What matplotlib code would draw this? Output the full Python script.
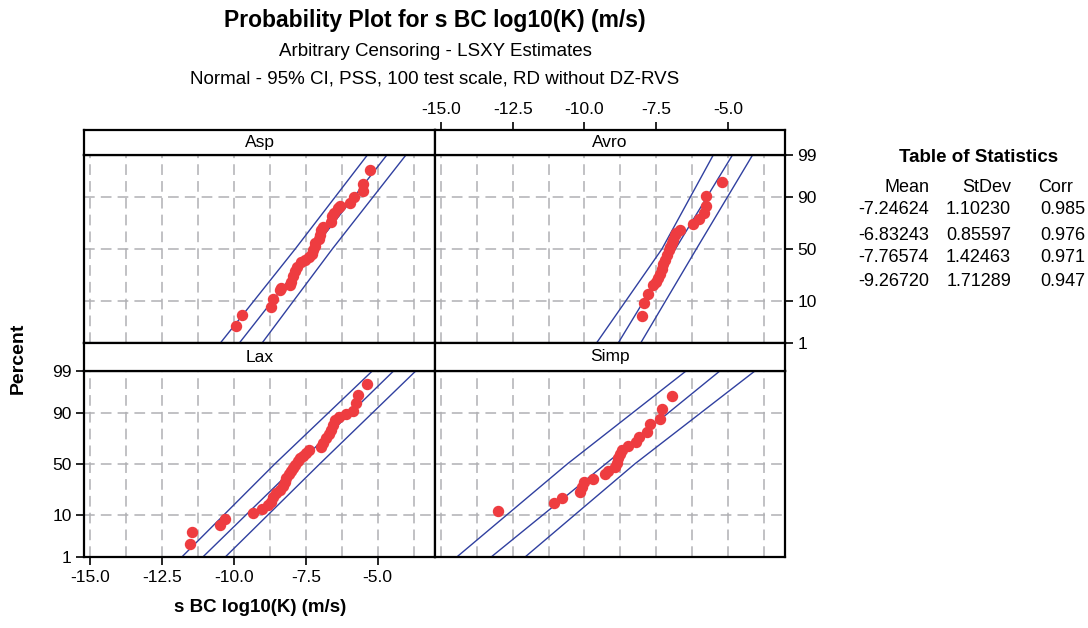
import matplotlib
matplotlib.use('Agg')
import matplotlib.pyplot as plt
from statistics import NormalDist

plt.rcParams['font.family'] = ['Liberation Sans', 'DejaVu Sans']

# table of statistics
groups = ['Asp', 'Avro', 'Lax', 'Simp']
means = [-7.24624, -6.83243, -7.76574, -9.26720]
stdevs = [1.10230, 0.85597, 1.42463, 1.71289]
corrs = [0.985, 0.976, 0.971, 0.947]

# points (value, percent)
asp_x = [-9.94, -9.73, -8.72, -8.65, -8.41, -8.38, -8.04, -8.01, -7.93, -7.87, -7.79,
         -7.66, -7.54, -7.38, -7.28, -7.25, -7.19, -7.17, -7.05, -6.99, -6.96, -6.91,
         -6.64, -6.59, -6.53, -6.38, -6.32, -5.97, -5.83, -5.51, -5.51, -5.27]
asp_pct = [2.8, 5.2, 7.6, 10.9, 15.4, 16.8, 18.5, 20.8, 25.0, 29.4, 32.9,
           37.4, 39.6, 42.2, 45.4, 48.7, 52.6, 55.9, 60.0, 63.8, 68.3, 70.6,
           74.7, 79.0, 81.3, 84.4, 85.4, 87.2, 90.0, 92.6, 94.6, 97.5]

avro_x = [-8.01, -7.94, -7.79, -7.60, -7.52, -7.44, -7.38, -7.29, -7.25, -7.20, -7.11,
          -7.06, -7.02, -6.96, -6.92, -6.85, -6.80, -6.68, -6.22, -6.00, -5.82, -5.75,
          -5.75, -5.19]
avro_pct = [4.9, 9.0, 13.5, 18.5, 20.8, 24.0, 27.2, 31.4, 35.9, 39.6, 43.8,
            48.7, 52.0, 55.9, 59.1, 63.2, 65.3, 67.7, 72.8, 77.3, 81.3, 85.9,
            90.7, 95.2]

lax_x = [-11.51, -11.45, -10.50, -10.30, -9.35, -9.01, -8.81, -8.72, -8.64, -8.55,
         -8.41, -8.30, -8.24, -8.18, -8.09, -8.01, -7.93, -7.86, -7.78, -7.70, -7.61,
         -7.49, -7.40, -6.97, -6.89, -6.80, -6.69, -6.61, -6.57, -6.49, -6.34, -6.11,
         -5.85, -5.77, -5.70, -5.36]
lax_pct = [2.3, 4.4, 6.5, 8.4, 11.1, 12.8, 15.4, 17.4, 20.3, 23.2,
           26.0, 29.3, 32.8, 36.7, 39.8, 43.0, 46.3, 49.5, 52.8, 56.0, 58.3,
           60.8, 63.9, 66.3, 70.4, 74.0, 77.3, 80.2, 83.4, 86.3, 88.0, 89.3,
           90.7, 93.7, 95.7, 97.7]

simp_x = [-13.00, -11.05, -10.79, -10.17, -10.10, -10.02, -9.71, -9.30, -9.19, -8.93,
          -8.87, -8.84, -8.76, -8.70, -8.50, -8.19, -8.11, -7.83, -7.70, -7.36, -7.30,
          -6.95]
simp_pct = [11.8, 16.4, 20.1, 23.9, 27.9, 32.8, 35.8, 39.8, 43.0, 47.2,
            51.1, 56.0, 60.2, 63.9, 67.5, 71.3, 75.3, 79.0, 84.0, 87.2, 91.6,
            95.6]

# 95% CI bands at these percents
band_pct = [1, 50, 99]
asp_lo = [-10.47, -7.87, -5.36]
asp_hi = [-9.02, -6.58, -4.02]
avro_lo = [-9.58, -7.30, -5.51]
avro_hi = [-8.04, -6.10, -4.14]
lax_lo = [-11.81, -8.58, -5.19]
lax_hi = [-10.30, -7.02, -3.68]
simp_lo = [-14.45, -10.60, -6.46]
simp_hi = [-12.07, -8.25, -4.06]

pts_x = [asp_x, avro_x, lax_x, simp_x]
pts_pct = [asp_pct, avro_pct, lax_pct, simp_pct]
lo_bands = [asp_lo, avro_lo, lax_lo, simp_lo]
hi_bands = [asp_hi, avro_hi, lax_hi, simp_hi]

x_ticks = [-15.0, -12.5, -10.0, -7.5, -5.0]
x_grid = [-15.0, -13.75, -12.5, -11.25, -10.0, -8.75, -7.5, -6.25, -5.0, -3.75]
y_ticks = [1, 10, 50, 90, 99]
y_grid = [10, 50, 90]

nd = NormalDist()


def zq(p):
    return nd.inv_cdf(p / 100.0)


W, H = 1088, 628


def box(x0, y0, x1, y1):
    return [x0 / W, 1 - y1 / H, (x1 - x0) / W, (y1 - y0) / H]


fig = plt.figure(figsize=(W / 100, H / 100), dpi=100)

red = '#ee3c40'
blue = '#3040a0'
xlim = (-15.21, -3.01)
ylim = (zq(1), zq(99))
fs = 12.5

# panel boxes in pixels, strip included at the top
plot_boxes = [(84, 130, 435, 343), (435, 130, 785, 343),
              (84, 343, 435, 557), (435, 343, 785, 557)]
strip_h = [25, 25, 28, 28]

for i, g in enumerate(groups):
    x0, y0, x1, y1 = plot_boxes[i]
    sy = y0 + strip_h[i]
    ax = fig.add_axes(box(x0, sy, x1, y1))
    st = fig.add_axes(box(x0, y0, x1, sy))

    for gx in x_grid:
        ax.axvline(gx, color='#b0b0b4', lw=1.1, dashes=(7, 4), zorder=1)
    for gy in y_grid:
        ax.axhline(zq(gy), color='#b0b0b4', lw=1.1, dashes=(7, 4), zorder=1)

    zb = [zq(p) for p in band_pct]
    ax.plot(lo_bands[i], zb, color=blue, lw=1, zorder=2)
    ax.plot(hi_bands[i], zb, color=blue, lw=1, zorder=2)
    ax.plot([means[i] + stdevs[i] * ylim[0], means[i] + stdevs[i] * ylim[1]],
            list(ylim), color=blue, lw=1, zorder=2)
    ax.plot(pts_x[i], [zq(p) for p in pts_pct[i]], 'o', color=red, ms=7.2,
            mec=red, zorder=3, clip_on=False)

    ax.set_xlim(xlim)
    ax.set_ylim(ylim)
    ax.set_xticks(x_ticks)
    ax.set_yticks([zq(p) for p in y_ticks])
    ax.set_yticklabels([str(p) for p in y_ticks])
    ax.set_xticklabels(['%.1f' % t for t in x_ticks])
    ax.tick_params(direction='out', length=6, width=1.2, labelsize=fs, pad=3)
    ax.tick_params(bottom=False, labelbottom=False, left=False, labelleft=False)

    st.set_xlim(xlim)
    st.set_yticks([])
    st.set_xticks([])
    st.text(0.5, 0.5, g, transform=st.transAxes, ha='center', va='center', fontsize=fs)

    for a in (ax, st):
        for s in a.spines.values():
            s.set_linewidth(1.6)
            s.set_color('black')

    if i == 2:
        ax.tick_params(bottom=True, labelbottom=True, left=True, labelleft=True)
    if i == 1:
        ax.tick_params(right=True, labelright=True)
        st.set_xticks(x_ticks)
        st.set_xticklabels(['%.1f' % t for t in x_ticks])
        st.tick_params(top=True, labeltop=True, bottom=False, labelbottom=False,
                       direction='out', length=6, width=1.2, labelsize=fs, pad=3)

fig.text(435 / W, 1 - 20 / H, 'Probability Plot for s BC log10(K) (m/s)', ha='center',
         va='center', fontsize=16.5, fontweight='bold')
fig.text(435 / W, 1 - 52 / H, 'Arbitrary Censoring - LSXY Estimates', ha='center',
         va='center', fontsize=13.5)
fig.text(435 / W, 1 - 79 / H, 'Normal - 95% CI, PSS, 100 test scale, RD without DZ-RVS',
         ha='center', va='center', fontsize=13.5)
fig.text(260 / W, 1 - 607 / H, 's BC log10(K) (m/s)', ha='center', va='center',
         fontsize=13.5, fontweight='bold')
fig.text(18 / W, 1 - 358 / H, 'Percent', ha='center', va='center', rotation=90,
         fontsize=14, fontweight='bold')

# table of statistics
fig.text(979 / W, 1 - 157 / H, 'Table of Statistics', ha='center', va='center',
         fontsize=13.5, fontweight='bold')
head_right = [929, 1011, 1073]
heads = ['Mean', 'StDev', 'Corr']
for c, hd in zip(head_right, heads):
    fig.text(c / W, 1 - 187 / H, hd, ha='right', va='center', fontsize=13)
col_right = [929, 1011, 1085]
row_y = [210, 235, 258, 281]
for r in range(4):
    vals = ['%.5f' % means[r], '%.5f' % stdevs[r], '%.3f' % corrs[r]]
    for c, v in zip(col_right, vals):
        fig.text(c / W, 1 - row_y[r] / H, v, ha='right', va='center', fontsize=13)

fig.savefig('out.png', dpi=100)
